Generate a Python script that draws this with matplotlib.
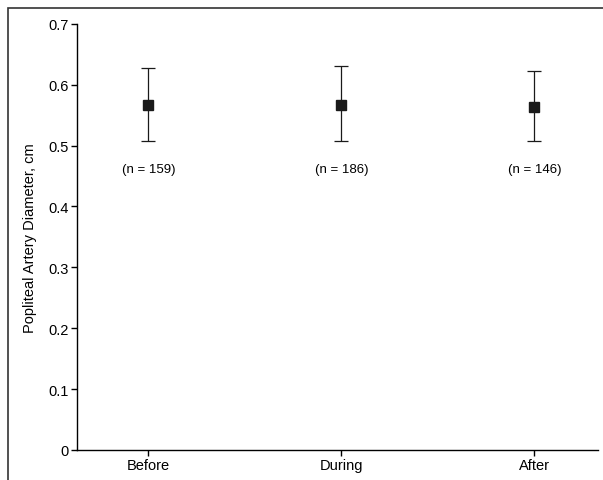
import matplotlib.pyplot as plt
from matplotlib.patches import Rectangle

plt.rcParams['font.family'] = ['Liberation Sans Narrow', 'Liberation Sans', 'DejaVu Sans']

labels = ["Before", "During", "After"]
means = [0.566, 0.567, 0.564]
upper = [0.627, 0.631, 0.623]
lower = [0.508, 0.508, 0.508]
counts = [159, 186, 146]
yticks = [0, 0.1, 0.2, 0.3, 0.4, 0.5, 0.6, 0.7]
ytick_labels = ["0", "0.1", "0.2", "0.3", "0.4", "0.5", "0.6", "0.7"]

fig = plt.figure(figsize=(6.03, 4.81), dpi=100)
fig.patches.append(Rectangle((8/603, -0.1), 1.2, (481-9)/481 + 0.1, transform=fig.transFigure,
                             fill=False, edgecolor="#333333", linewidth=1.2))
ax = fig.add_axes([77/603, 30/481, 0.864, 0.886])

x = list(range(len(labels)))
yerr = [[m - l for m, l in zip(means, lower)], [u - m for m, u in zip(means, upper)]]
ax.errorbar(x, means, yerr=yerr, fmt="s", color="#1a1a1a", markersize=7,
            ecolor="#1a1a1a", elinewidth=0.9, capsize=4.8, capthick=0.9)
for xi, n in zip(x, counts):
    ax.text(xi, 0.462, "(n = %d)" % n, ha="center", va="center", fontsize=9.5)

ax.set_xlim(-0.37, 2.33)
ax.set_ylim(0, 0.7)
ax.set_xticks(x)
ax.set_xticklabels(labels, fontsize=10.5)
ax.set_yticks(yticks)
ax.set_yticklabels(ytick_labels, fontsize=10.5)
ax.set_ylabel("Popliteal Artery Diameter, cm", fontsize=10.5, labelpad=8)
ax.spines["top"].set_visible(False)
ax.spines["right"].set_visible(False)
for s in ["left", "bottom"]:
    ax.spines[s].set_linewidth(1.0)
ax.tick_params(direction="out", length=4, width=1.0, pad=2)

fig.savefig("out.png", dpi=100)
